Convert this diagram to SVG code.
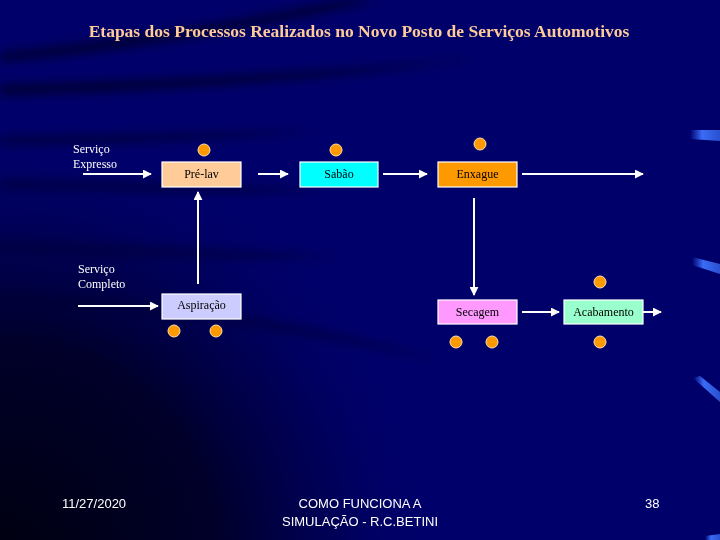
<svg xmlns="http://www.w3.org/2000/svg" width="720" height="540" viewBox="0 0 720 540">
<defs>
<radialGradient id="bl" cx="0" cy="560" r="440" gradientUnits="userSpaceOnUse">
<stop offset="0" stop-color="#000010"/>
<stop offset="0.5" stop-color="#00002a"/>
<stop offset="0.75" stop-color="#000048" stop-opacity="0.6"/>
<stop offset="1" stop-color="#00006b" stop-opacity="0"/>
</radialGradient>
<linearGradient id="bar" x1="0" x2="1" y1="0" y2="0">
<stop offset="0" stop-color="#3366ff" stop-opacity="0"/>
<stop offset="0.4" stop-color="#3a6cf5"/>
<stop offset="1" stop-color="#2a50d0"/>
</linearGradient>
<filter id="blur" x="-10%" y="-50%" width="120%" height="200%"><feGaussianBlur stdDeviation="5"/></filter>
<marker id="ah" viewBox="0 0 10 10" refX="9" refY="5" markerWidth="4.5" markerHeight="4.5" orient="auto" markerUnits="strokeWidth">
<path d="M0,0 L10,5 L0,10 z" fill="#ffffff"/>
</marker>
<style>
.box{stroke:#ffffff;stroke-width:1.2}
.lbl{font-family:"Liberation Serif",serif;font-size:12px;fill:#000000;text-anchor:middle}
.side{font-family:"Liberation Serif",serif;font-size:12px;fill:#ffffff}
.foot{font-family:"Liberation Sans",sans-serif;font-size:13px;fill:#ffffff}
.dot{fill:#ff9900;stroke:#ffe0b0;stroke-width:1}
.arr{stroke:#ffffff;stroke-width:2;fill:none;marker-end:url(#ah)}
</style>
</defs>
<rect width="720" height="540" fill="#00006b"/>
<g id="background" opacity="0.7">
<path d="M0,52 C120,40 240,20 340,0 L380,0 C260,28 130,52 0,62 Z" fill="#000028" filter="url(#blur)"/>
<path d="M0,84 C160,80 330,72 480,58 C330,80 160,92 0,96 Z" fill="#000028" filter="url(#blur)"/>
<path d="M0,136 C120,134 230,132 320,130 C230,140 120,144 0,146 Z" fill="#000035" filter="url(#blur)"/>
<path d="M0,178 C120,180 230,186 330,190 C230,196 120,192 0,190 Z" fill="#000035" filter="url(#blur)"/>
<path d="M0,240 C120,244 240,250 340,256 C240,262 120,258 0,252 Z" fill="#000035" filter="url(#blur)"/>
<path d="M0,292 C150,298 300,320 440,360 C300,332 150,310 0,304 Z" fill="#000030" filter="url(#blur)"/>
</g>
<rect width="720" height="540" fill="url(#bl)"/>
<g id="accents">
<path d="M690,130 L720,130 L720,141 L690,139 Z" fill="url(#bar)"/>
<path d="M692,257 L720,264 L720,274 L692,265 Z" fill="url(#bar)"/>
<path d="M693,378 L700,376 L720,392 L720,402 Z" fill="url(#bar)"/>
<path d="M705,536 L720,534 L720,540 L705,540 Z" fill="url(#bar)"/>
</g>
<text x="359" y="37" text-anchor="middle" font-family="Liberation Serif,serif" font-size="17.5" font-weight="bold" fill="#ffcc99">Etapas dos Processos Realizados no Novo Posto de Serviços Automotivos</text>
<g id="connectors">
<line class="arr" x1="83" y1="174" x2="151" y2="174"/>
<line class="arr" x1="258" y1="174" x2="288" y2="174"/>
<line class="arr" x1="383" y1="174" x2="427" y2="174"/>
<line class="arr" x1="522" y1="174" x2="643" y2="174"/>
<line class="arr" x1="198" y1="284" x2="198" y2="192"/>
<line class="arr" x1="474" y1="198" x2="474" y2="295"/>
<line class="arr" x1="78" y1="306" x2="158" y2="306"/>
<line class="arr" x1="522" y1="312" x2="559" y2="312"/>
<line class="arr" x1="643" y1="312" x2="661" y2="312"/>
</g>
<g id="labels">
<text class="side" x="73" y="153">Serviço</text>
<text class="side" x="73" y="168">Expresso</text>
<text class="side" x="78" y="273">Serviço</text>
<text class="side" x="78" y="288">Completo</text>
</g>
<g id="prelav">
<rect class="box" x="162" y="162" width="79" height="25" fill="#ffcc99"/>
<text class="lbl" x="201.5" y="178">Pré-lav</text>
<circle class="dot" cx="204" cy="150" r="6"/>
</g>
<g id="sabao">
<rect class="box" x="300" y="162" width="78" height="25" fill="#00ffff"/>
<text class="lbl" x="339" y="178">Sabão</text>
<circle class="dot" cx="336" cy="150" r="6"/>
</g>
<g id="enxague">
<rect class="box" x="438" y="162" width="79" height="25" fill="#ff9900"/>
<text class="lbl" x="477.5" y="178">Enxague</text>
<circle class="dot" cx="480" cy="144" r="6"/>
</g>
<g id="aspiracao">
<rect class="box" x="162" y="294" width="79" height="25" fill="#ccccff"/>
<text class="lbl" x="201.5" y="309">Aspiração</text>
<circle class="dot" cx="174" cy="331" r="6"/>
<circle class="dot" cx="216" cy="331" r="6"/>
</g>
<g id="secagem">
<rect class="box" x="438" y="300" width="79" height="24" fill="#ff99ff"/>
<text class="lbl" x="477.5" y="316">Secagem</text>
<circle class="dot" cx="456" cy="342" r="6"/>
<circle class="dot" cx="492" cy="342" r="6"/>
</g>
<g id="acabamento">
<rect class="box" x="564" y="300" width="79" height="24" fill="#99ffcc"/>
<text class="lbl" x="603.5" y="316">Acabamento</text>
<circle class="dot" cx="600" cy="282" r="6"/>
<circle class="dot" cx="600" cy="342" r="6"/>
</g>
<g id="footer">
<text class="foot" x="62" y="508">11/27/2020</text>
<text class="foot" x="360" y="508" text-anchor="middle">COMO FUNCIONA A</text>
<text class="foot" x="360" y="526" text-anchor="middle">SIMULAÇÃO - R.C.BETINI</text>
<text class="foot" x="645" y="508">38</text>
</g>
</svg>
